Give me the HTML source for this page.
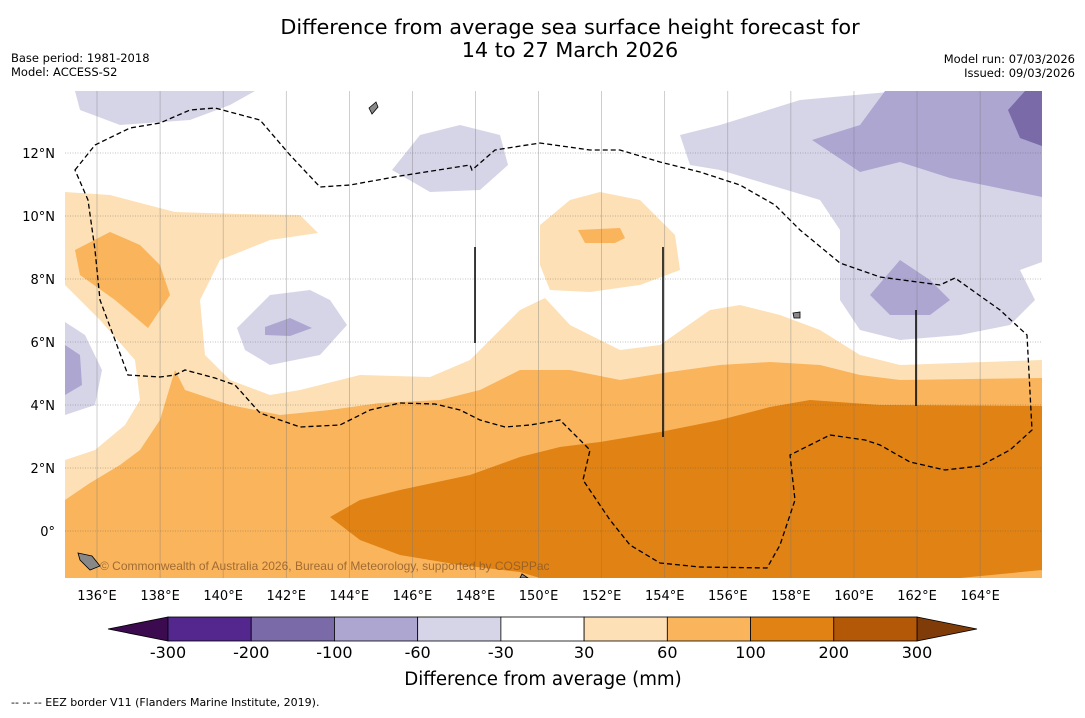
<!DOCTYPE html>
<html><head><meta charset="utf-8"><style>
body{margin:0;background:#fff;font-family:"Liberation Sans","DejaVu Sans",sans-serif;}
svg text{font-family:"DejaVu Sans","Liberation Sans",sans-serif;}
</style></head><body>
<svg id="chart" width="1085" height="713" viewBox="0 0 1085 713" xmlns="http://www.w3.org/2000/svg">
<rect width="1085" height="713" fill="#fff"/>
<text x="570" y="34" font-size="20.8" text-anchor="middle">Difference from average sea surface height forecast for</text>
<text x="570" y="57" font-size="20.8" text-anchor="middle">14 to 27 March 2026</text>
<text x="11" y="62" font-size="11.5">Base period: 1981-2018</text>
<text x="11" y="76" font-size="11.5">Model: ACCESS-S2</text>
<text x="1075" y="63" font-size="11.5" text-anchor="end">Model run: 07/03/2026</text>
<text x="1075" y="77" font-size="11.5" text-anchor="end">Issued: 09/03/2026</text>
<defs><clipPath id="mapclip"><rect x="65" y="91" width="977" height="487"/></clipPath></defs>
<g id="map" clip-path="url(#mapclip)">
<rect x="65" y="91" width="977" height="487" fill="#fff"/>
<g fill="#fde0b5">
<path d="M65,192 L110,195 L175,212 L240,214 L300,215 L318,233 L270,240 L220,260 L200,300 L205,355 L230,380 L270,395 L300,390 L360,375 L430,377 L470,360 L490,340 L520,310 L545,298 L570,325 L620,350 L660,345 L710,310 L740,305 L780,315 L820,330 L860,355 L900,365 L1042,360 L1042,578 L65,578 L65,460 L95,450 L125,425 L140,400 L135,360 L100,320 L65,285 Z"/>
<path d="M540,225 L570,200 L600,192 L640,200 L675,235 L680,270 L640,285 L590,292 L550,290 L540,265 Z"/>
</g>
<g fill="#f9b45c">
<path d="M75,250 L110,232 L140,245 L160,265 L170,295 L148,328 L115,300 L80,275 Z"/>
<path d="M578,230 L620,228 L625,238 L615,243 L585,243 Z"/>
<path d="M65,500 L90,483 L120,465 L140,450 L160,420 L175,370 L185,390 L230,405 L280,415 L330,410 L380,403 L440,400 L480,390 L520,370 L570,370 L620,380 L670,372 L720,365 L770,362 L820,365 L860,375 L900,380 L1042,378 L1042,578 L65,578 Z"/>
</g>
<g fill="#e08214">
<path d="M330,517 L360,500 L400,490 L470,475 L520,457 L560,447 L600,442 L660,432 L720,420 L770,407 L810,400 L880,405 L1042,406 L1042,570 L960,578 L540,578 L520,572 L460,565 L400,555 L360,540 Z"/>
</g>
<g fill="#d6d5e8">
<path d="M75,91 L255,91 L230,105 L190,120 L120,125 L80,110 Z"/>
<path d="M392,170 L420,135 L460,125 L500,135 L508,165 L480,190 L430,192 Z"/>
<path d="M680,135 L720,125 L800,100 L900,91 L1042,91 L1042,262 L1020,270 L1035,300 L1010,325 L960,335 L900,340 L860,330 L840,300 L840,230 L820,200 L770,185 L720,170 L690,165 Z"/>
<path d="M237,328 L270,295 L310,290 L330,300 L347,325 L320,355 L270,365 L245,350 Z"/>
<path d="M65,322 L85,335 L102,370 L95,405 L65,415 Z"/>
</g>
<g fill="#ada6d0">
<path d="M812,140 L860,125 L885,91 L1042,91 L1042,197 L950,178 L900,162 L860,172 Z"/>
<path d="M870,295 L900,260 L930,280 L950,300 L930,315 L890,315 Z"/>
<path d="M265,327 L290,318 L312,328 L290,336 L265,335 Z"/>
<path d="M65,345 L80,355 L82,385 L65,395 Z"/>
</g>
<path fill="#7a6aa8" d="M1008,110 L1025,91 L1042,91 L1042,146 L1020,138 Z"/>
<g id="grid"></g>
<path fill="none" stroke="#000" stroke-width="1.3" stroke-dasharray="5,3" d="M75,170 L95,145 L130,128 L160,123 L190,110 L215,108 L260,120 L290,155 L320,187 L350,185 L400,176 L470,165 L472,170 L495,150 L540,143 L590,150 L620,150 L660,162 L700,172 L740,185 L775,205 L800,230 L840,263 L880,277 L910,281 L940,285 L955,278 L1000,310 L1027,335 L1032,430 L1010,450 L980,466 L945,470 L910,462 L880,445 L865,440 L830,435 L800,450 L790,455 L795,500 L780,545 L767,568 L700,567 L660,563 L630,545 L610,520 L583,480 L590,450 L575,435 L560,420 L530,425 L505,427 L480,420 L460,410 L435,404 L400,403 L370,410 L340,425 L300,427 L260,413 L235,385 L215,378 L185,370 L175,375 L160,377 L128,375 L115,340 L100,300 L95,250 L88,200 Z"/>
<g stroke="#000" stroke-width="1.5">
<line x1="475" y1="247" x2="475" y2="343"/><line x1="663" y1="247" x2="663" y2="437"/><line x1="916" y1="310" x2="916" y2="406"/>
</g>
<g fill="#888" stroke="#000" stroke-width="0.8">
<path d="M369,108 L376,102 L378,107 L372,114 Z"/><path d="M78,553 L92,556 L100,566 L90,570 L80,560 Z"/><path d="M793,313 L800,312 L800,318 L794,318 Z"/><path d="M522,574 L528,578 L520,578 Z"/>
</g>
<text x="100" y="570" font-size="12" fill="#8a5a2a" opacity="0.8" style="font-family:'Liberation Sans',sans-serif">© Commonwealth of Australia 2026, Bureau of Meteorology, supported by COSPPac</text>
</g>
<g id="ticks"></g>
<g id="cbar"></g>
<text x="543" y="685" font-size="18.2" text-anchor="middle">Difference from average (mm)</text>
<text x="11" y="706" font-size="11">--  --  -- EEZ border V11 (Flanders Marine Institute, 2019).</text>
</svg>
<script>
const lonTicks=[136,138,140,142,144,146,148,150,152,154,156,158,160,162,164];
const latTicks=[12,10,8,6,4,2,0];
const levelLabels=["-300","-200","-100","-60","-30","30","60","100","200","300"];
const levelColors=["#54278f","#7a6aa8","#ada6d0","#d6d5e8","#ffffff","#fde0b5","#f9b45c","#e08214","#b35806"];
const lowColor="#3b0a4f", highColor="#7f3b08";
const NS="http://www.w3.org/2000/svg";
const xLon=l=>97+(l-136)*31.54;
const yLat=l=>531-l*31.5;
function mk(t,a,p){const e=document.createElementNS(NS,t);for(const k in a)e.setAttribute(k,a[k]);p.appendChild(e);return e;}
const grid=document.getElementById('grid'),ticks=document.getElementById('ticks');
lonTicks.forEach(l=>{const x=xLon(l);
 const g=mk('line',{x1:x,y1:91,x2:x,y2:578,stroke:'#777','stroke-width':0.6,opacity:0.6},grid);
 
 
 const t=mk('text',{x:x,y:600,'font-size':13,'text-anchor':'middle'},ticks);t.textContent=l+'°E';
 
 });
latTicks.forEach(l=>{const y=yLat(l);
 const g=mk('line',{x1:65,y1:y,x2:1042,y2:y,stroke:'#555','stroke-width':0.6,'stroke-dasharray':'1,1.5',opacity:0.7},grid);
 
 
 const t=mk('text',{x:55,y:y+5,'font-size':13,'text-anchor':'end'},ticks);t.textContent=l===0?'0°':l+'°N';
 
 });
const cb=document.getElementById('cbar');const x0=168,x1=917,y0=617,h=24,w=(x1-x0)/levelColors.length;
const tl=mk('polygon',{points:`108,${y0+h/2} ${x0},${y0} ${x0},${y0+h}`,fill:lowColor,stroke:'#000','stroke-width':0.8},cb);


const th=mk('polygon',{points:`977,${y0+h/2} ${x1},${y0} ${x1},${y0+h}`,fill:highColor,stroke:'#000','stroke-width':0.8},cb);


levelColors.forEach((c,i)=>{const r=mk('rect',{x:x0+i*w,y:y0,width:w,height:h,fill:c,stroke:'#000','stroke-width':0.8},cb);
 
 });
levelLabels.forEach((s,i)=>{const t=mk('text',{x:x0+i*w,y:658,'font-size':16,'text-anchor':'middle'},cb);t.textContent=s;
 
 });
</script>
</body></html>
